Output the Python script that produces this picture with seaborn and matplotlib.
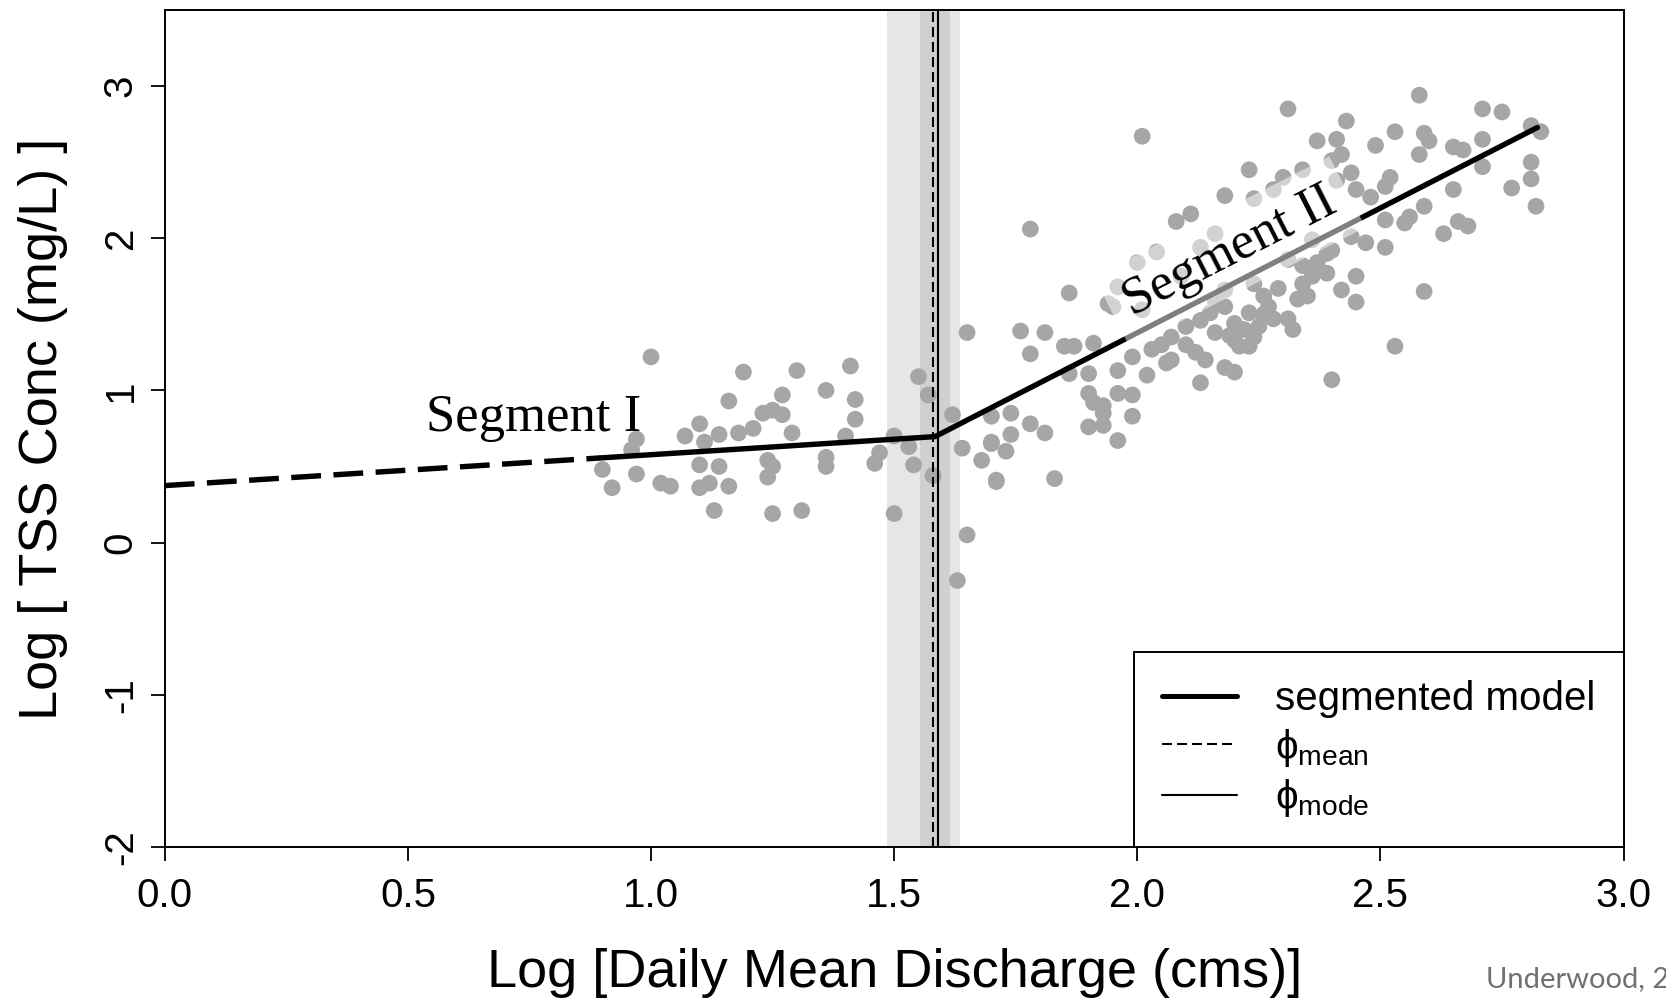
import matplotlib
matplotlib.use("Agg")
import matplotlib.pyplot as plt
import seaborn as sns
from matplotlib.lines import Line2D

# ---------------- data ----------------
# Segment I / around the breakpoint
seg1_x = [1.00, 1.19, 1.30, 1.41, 1.16, 1.27, 1.36, 1.42, 1.42, 1.25, 1.27, 1.10, 0.97,
          1.14, 1.18, 1.21, 1.29, 1.11, 1.40, 1.50, 1.53, 1.55, 1.57, 1.62, 1.64, 1.65,
          1.46, 1.54, 1.58, 1.50, 1.65, 0.90, 0.92, 0.97, 1.02, 1.04, 1.10, 1.14, 1.10,
          1.12, 1.16, 1.13, 1.24, 1.25, 1.24, 1.25, 1.31, 1.36, 1.36, 1.47, 1.70, 1.68,
          1.71, 1.70, 0.96, 1.63, 1.07, 1.23]
seg1_y = [1.22, 1.12, 1.13, 1.16, 0.93, 0.97, 1.00, 0.94, 0.81, 0.87, 0.84, 0.78, 0.68,
          0.71, 0.72, 0.75, 0.72, 0.66, 0.70, 0.70, 0.63, 1.09, 0.97, 0.84, 0.62, 1.38,
          0.52, 0.51, 0.44, 0.19, 0.05, 0.48, 0.36, 0.45, 0.39, 0.37, 0.51, 0.50, 0.36,
          0.39, 0.37, 0.21, 0.54, 0.50, 0.43, 0.19, 0.21, 0.56, 0.50, 0.59, 0.65, 0.54,
          0.40, 0.83, 0.61, -0.25, 0.70, 0.85]

# Segment II
seg2_x = [1.86, 1.76, 1.81, 1.78, 1.85, 1.87, 1.91, 1.95, 1.99, 1.96, 2.02, 1.86, 1.90,
          1.90, 1.91, 1.93, 1.96, 1.99, 1.99, 1.90, 1.93, 1.96, 1.74, 1.78, 1.81, 1.74,
          1.70, 1.73, 1.71, 1.83, 1.78, 2.01,
          2.29, 2.35, 2.42, 2.31, 2.32, 2.26, 2.23, 2.20, 2.20, 2.23, 2.24, 2.16, 2.15,
          2.13, 2.10, 2.07, 2.03, 2.06, 2.07, 2.12, 2.14, 2.18, 2.20, 2.13, 2.40, 2.34,
          2.37, 2.40, 2.31, 2.24, 2.18, 2.18, 2.22, 2.25, 2.16, 2.21, 2.36, 2.39,
          2.11, 2.08, 2.04, 2.00, 2.01, 2.16, 2.13, 2.09, 1.96, 1.94,
          2.31, 2.43, 2.37, 2.41, 2.49, 2.53, 2.42, 2.52, 2.44, 2.23, 2.40, 2.41, 2.34,
          2.30, 2.28, 2.24, 2.18, 2.48, 2.45, 2.44, 2.47, 2.51, 2.36, 2.39,
          2.58, 2.71, 2.75, 2.59, 2.60, 2.58, 2.65, 2.67, 2.71, 2.71, 2.81, 2.83, 2.81,
          2.81, 2.77, 2.82, 2.51, 2.65, 2.59, 2.56, 2.55, 2.66, 2.68, 2.63, 2.51, 2.45,
          2.45, 2.59, 2.53,
          1.93, 2.05, 2.27, 2.33, 2.19, 2.28, 2.10, 2.34, 2.26]
seg2_y = [1.64, 1.39, 1.38, 1.24, 1.29, 1.29, 1.31, 1.55, 1.22, 1.13, 1.10, 1.11, 1.11,
          0.98, 0.92, 0.90, 0.98, 0.97, 0.83, 0.76, 0.77, 0.67, 0.85, 0.78, 0.72, 0.71,
          0.66, 0.60, 0.41, 0.42, 2.06, 2.67,
          1.67, 1.62, 1.66, 1.47, 1.40, 1.50, 1.51, 1.44, 1.33, 1.29, 1.35, 1.59, 1.51,
          1.46, 1.42, 1.35, 1.27, 1.18, 1.20, 1.25, 1.20, 1.15, 1.12, 1.05, 1.07, 1.82,
          1.84, 1.92, 1.86, 1.70, 1.66, 1.55, 1.40, 1.42, 1.38, 1.29, 1.75, 1.77,
          2.16, 2.11, 1.91, 1.84, 1.53, 2.03, 1.94, 1.75, 1.68, 1.57,
          2.85, 2.77, 2.64, 2.65, 2.61, 2.70, 2.55, 2.40, 2.43, 2.45, 2.51, 2.38, 2.45,
          2.40, 2.32, 2.26, 2.28, 2.27, 2.32, 2.01, 1.97, 1.94, 1.99, 1.90,
          2.94, 2.85, 2.83, 2.69, 2.64, 2.55, 2.60, 2.58, 2.65, 2.47, 2.74, 2.70, 2.50,
          2.39, 2.33, 2.21, 2.34, 2.32, 2.21, 2.14, 2.10, 2.11, 2.08, 2.03, 2.12, 1.75,
          1.58, 1.65, 1.29,
          0.85, 1.30, 1.55, 1.60, 1.36, 1.47, 1.30, 1.70, 1.62]

discharge = seg1_x + seg2_x
tss = seg1_y + seg2_y

# fitted segmented model
model_dash_x = [0.0, 0.896]
model_dash_y = [0.374, 0.556]
model_x = [0.896, 1.584, 2.823]
model_y = [0.556, 0.696, 2.728]

# breakpoint estimates and intervals
phi_mean = 1.580
phi_mode = 1.591
ci_outer = [1.485, 1.635]
ci_inner = [1.553, 1.615]

x_ticks = [0.0, 0.5, 1.0, 1.5, 2.0, 2.5, 3.0]
x_tick_labels = ["0.0", "0.5", "1.0", "1.5", "2.0", "2.5", "3.0"]
y_ticks = [-2, -1, 0, 1, 2, 3]
y_tick_labels = ["-2", "-1", "0", "1", "2", "3"]

# ---------------- style ----------------
sns.set_style("white")
plt.rcParams["font.family"] = ["Liberation Sans", "DejaVu Sans"]
plt.rcParams["text.color"] = "black"
plt.rcParams["axes.labelcolor"] = "black"
plt.rcParams["xtick.color"] = "black"
plt.rcParams["ytick.color"] = "black"
plt.rcParams["mathtext.fontset"] = "custom"
plt.rcParams["mathtext.rm"] = "Liberation Sans"
plt.rcParams["mathtext.it"] = "Liberation Sans:italic"
plt.rcParams["mathtext.bf"] = "Liberation Sans:bold"

fig = plt.figure(figsize=(16.66, 10), dpi=100)
ax = fig.add_axes([0.0989, 0.1532, 0.8756, 0.8368])

ax.axvspan(ci_outer[0], ci_outer[1], color="#e6e6e6", lw=0, zorder=0)
ax.axvspan(ci_inner[0], ci_inner[1], color="#d0d0d0", lw=0, zorder=0.5)

sns.scatterplot(x=discharge, y=tss, ax=ax, color="#a6a6a6", s=145,
                linewidth=0, edgecolor="none", zorder=2, legend=False)

sns.lineplot(x=model_dash_x, y=model_dash_y, ax=ax, color="black", lw=3.9,
             linestyle=(0, (5.5, 2.3)), sort=False, estimator=None, zorder=3)
sns.lineplot(x=model_x, y=model_y, ax=ax, color="black", lw=3.9,
             sort=False, estimator=None, zorder=3)

ax.axvline(phi_mean, color="black", lw=1.5, ls=(0, (4.8, 2.4)), zorder=4)
ax.axvline(phi_mode, color="black", lw=1.5, zorder=4)

ax.text(0.758, 0.821, "Segment I", family=["Liberation Serif", "DejaVu Serif"],
        fontsize=38, ha="center", va="center", zorder=5)
ax.text(2.19, 1.91, "Segment II", family=["Liberation Serif", "DejaVu Serif"],
        fontsize=38, ha="center", va="center", rotation=27, rotation_mode="anchor",
        zorder=5,
        bbox=dict(boxstyle="square,pad=0.3", fc="white", ec="none", alpha=0.5))

ax.set_xlim(0, 3)
ax.set_ylim(-2, 3.5)
ax.set_xticks(x_ticks)
ax.set_xticklabels(x_tick_labels)
ax.set_yticks(y_ticks)
ax.set_yticklabels(y_tick_labels)
ax.tick_params(axis="both", direction="out", length=10, width=1.3, labelsize=29,
               colors="black", left=True, bottom=True)
ax.tick_params(axis="x", pad=12)
ax.tick_params(axis="y", pad=8)
for lab in ax.get_yticklabels():
    lab.set_rotation(90)
    lab.set_va("center")
    lab.set_ha("right")

for sp in ax.spines.values():
    sp.set_visible(True)
    sp.set_color("black")
    sp.set_linewidth(1.4)

ax.set_xlabel("Log [Daily Mean Discharge (cms)]", fontsize=39, color="black")
ax.set_ylabel("Log [ TSS Conc (mg/L) ]", fontsize=39, color="black")
ax.xaxis.set_label_coords(0.5, -0.151)
ax.xaxis.label.set_va("center")
ax.yaxis.set_label_coords(-0.0838, 0.5)
ax.yaxis.label.set_va("center")

handles = [Line2D([], [], color="black", lw=3.6),
           Line2D([], [], color="black", lw=1.5, ls=(0, (4.8, 2.4))),
           Line2D([], [], color="black", lw=1.5)]
labels = ["segmented model", r"$\mathregular{\phi_{mean}}$", r"$\mathregular{\phi_{mode}}$"]
leg = ax.legend(handles, labels, loc="lower right", bbox_to_anchor=(1, 0),
                borderaxespad=0, fontsize=29, frameon=True, fancybox=False,
                framealpha=1, edgecolor="black", handlelength=1.86,
                handletextpad=0.95, borderpad=0.7, labelspacing=0.2)
leg.get_frame().set_linewidth(1.4)
leg.set_zorder(10)
for t in leg.get_texts():
    t.set_color("black")

fig.text(1486 / 1666, 1 - 979 / 1000, "Underwood, 2", fontsize=21,
         family=["Lato", "DejaVu Sans"], color="#707075", ha="left", va="center")

fig.savefig("out.png", dpi=100)
